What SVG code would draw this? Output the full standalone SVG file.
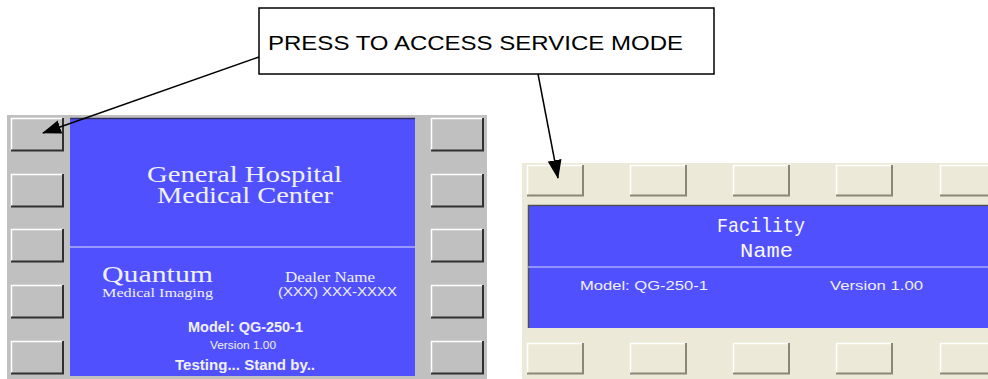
<svg xmlns="http://www.w3.org/2000/svg" width="988" height="379" viewBox="0 0 988 379">
<defs>
<style>
.gbtn{fill:#C0C0C0}
.hl{stroke:#FFFFFF;stroke-width:1.5;fill:none}
.sh{stroke:#303030;stroke-width:2;fill:none}
.bbtn{fill:#ECE9D8}
.bhl{stroke:#FFFFFF;stroke-width:1.5;fill:none}
.bsh{stroke:#8A8778;stroke-width:2;fill:none}
.blue{fill:#5050FF}
.serif{font-family:"Liberation Serif","DejaVu Serif",serif;fill:#F0F0F8}
.sans{font-family:"Liberation Sans","DejaVu Sans",sans-serif;fill:#F0F0F8}
.mono{font-family:"Liberation Mono","DejaVu Sans Mono",monospace;fill:#F8F8FF}
.conn{stroke:#000;stroke-width:1.5;fill:none}
</style>
<marker id="ah" markerWidth="19" markerHeight="14" refX="18" refY="7" orient="auto" markerUnits="userSpaceOnUse">
<path d="M0,0 L19,7 L0,14 Z" fill="#000"/>
</marker>
<g id="gb">
<rect class="gbtn" x="0" y="0" width="52" height="33"/>
<path class="hl" d="M0.5,33 V0.5 H52"/>
<path class="sh" d="M0,32.5 H52 V0"/>
</g>
<g id="bb">
<rect class="bbtn" x="0" y="0" width="56" height="31"/>
<path class="bhl" d="M0.5,31 V0.5 H56"/>
<path class="bsh" d="M0,30.5 H56 V0"/>
</g>
</defs>
<rect width="988" height="379" fill="#FFFFFF"/>

<g id="left-panel">
<rect x="7" y="115" width="480" height="264" fill="#C0C0C0"/>
<rect class="blue" x="70" y="118" width="345" height="258"/>
<path d="M70,118.5 H415" stroke="#303060" stroke-width="1.5"/>
<line x1="70" y1="247" x2="415" y2="247" stroke="#E0E0FF" stroke-width="1.2"/>
<use href="#gb" x="11" y="118"/>
<use href="#gb" x="11" y="174"/>
<use href="#gb" x="11" y="229"/>
<use href="#gb" x="11" y="285"/>
<use href="#gb" x="11" y="341"/>
<use href="#gb" x="431" y="118"/>
<use href="#gb" x="431" y="174"/>
<use href="#gb" x="431" y="229"/>
<use href="#gb" x="431" y="285"/>
<use href="#gb" x="431" y="341"/>
<text class="serif" x="147" y="182" font-size="23" textLength="195" lengthAdjust="spacingAndGlyphs">General Hospital</text>
<text class="serif" x="157" y="203" font-size="23" textLength="176" lengthAdjust="spacingAndGlyphs">Medical Center</text>
<text class="serif" x="102" y="282" font-size="24" textLength="111" lengthAdjust="spacingAndGlyphs">Quantum</text>
<text class="serif" x="102" y="297" font-size="13" textLength="111" lengthAdjust="spacingAndGlyphs">Medical Imaging</text>
<text class="serif" x="285" y="282" font-size="14" textLength="90" lengthAdjust="spacingAndGlyphs">Dealer Name</text>
<text class="sans" x="278" y="296" font-size="13" textLength="119" lengthAdjust="spacingAndGlyphs">(XXX) XXX-XXXX</text>
<text class="sans" x="188" y="332" font-size="14" font-weight="bold" textLength="115" lengthAdjust="spacingAndGlyphs">Model: QG-250-1</text>
<text class="sans" x="210" y="349" font-size="10" textLength="66" lengthAdjust="spacingAndGlyphs">Version 1.00</text>
<text class="sans" x="175" y="370" font-size="15" font-weight="bold" textLength="140" lengthAdjust="spacingAndGlyphs">Testing... Stand by..</text>
</g>

<g id="right-panel">
<rect x="522" y="163" width="466" height="216" fill="#ECE9D8"/>
<rect class="blue" x="528" y="205" width="460" height="123"/>
<path d="M528.5,328 V205.5 H988" stroke="#505050" stroke-width="1.5" fill="none"/>
<line x1="528" y1="267" x2="988" y2="267" stroke="#A8A8FF" stroke-width="1.5"/>
<use href="#bb" x="527" y="165"/>
<use href="#bb" x="630" y="165"/>
<use href="#bb" x="733" y="165"/>
<use href="#bb" x="836" y="165"/>
<use href="#bb" x="940" y="165"/>
<use href="#bb" x="527" y="343"/>
<use href="#bb" x="630" y="343"/>
<use href="#bb" x="733" y="343"/>
<use href="#bb" x="836" y="343"/>
<use href="#bb" x="940" y="343"/>
<text class="mono" x="717" y="232" font-size="21" textLength="88" lengthAdjust="spacingAndGlyphs">Facility</text>
<text class="mono" x="740" y="257" font-size="21" textLength="53" lengthAdjust="spacingAndGlyphs">Name</text>
<text class="sans" x="580" y="290" font-size="13" textLength="128" lengthAdjust="spacingAndGlyphs">Model:  QG-250-1</text>
<text class="sans" x="830" y="290" font-size="13" textLength="93" lengthAdjust="spacingAndGlyphs">Version 1.00</text>
</g>

<g id="callout">
<rect x="259" y="8" width="455" height="66" fill="#FFFFFF" stroke="#000" stroke-width="1.5"/>
<text x="268" y="50" font-family="'Liberation Sans',Arial,sans-serif" font-size="21" fill="#000" textLength="415" lengthAdjust="spacingAndGlyphs">PRESS TO ACCESS SERVICE MODE</text>
</g>

<g id="connectors">
<line class="conn" x1="259" y1="57" x2="43" y2="133" marker-end="url(#ah)"/>
<line class="conn" x1="538" y1="74" x2="558" y2="178" marker-end="url(#ah)"/>
</g>
</svg>
